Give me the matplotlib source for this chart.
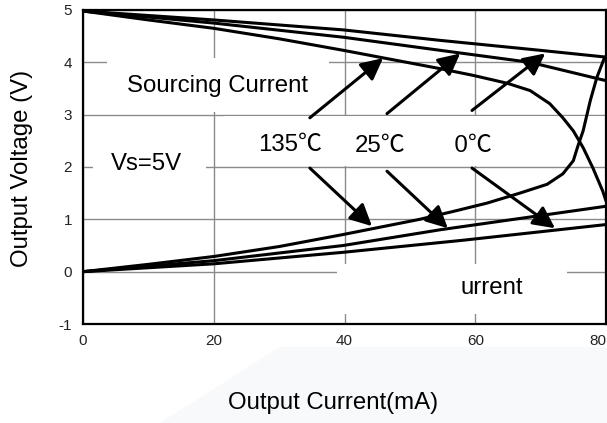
import matplotlib
matplotlib.use("Agg")
import matplotlib.pyplot as plt
from matplotlib.patches import Rectangle, Polygon

plt.rcParams['font.family'] = ['Liberation Sans', 'Noto Sans CJK SC', 'DejaVu Sans']
plt.rcParams['axes.unicode_minus'] = False

# sourcing current curves (upper)
src_hot_x = [0, 10, 20, 30, 39.8, 54.6, 59.7, 64.9, 68.4, 71.4, 73.4, 75.0, 76.5, 78.0, 79.5, 80]
src_hot_v = [4.98, 4.81, 4.65, 4.45, 4.23, 3.88, 3.75, 3.60, 3.46, 3.21, 2.94, 2.69, 2.37, 1.98, 1.54, 1.35]
src_room_x = [0, 20, 39.8, 54.6, 68.4, 80]
src_room_v = [4.98, 4.75, 4.48, 4.23, 4.00, 3.65]
src_cold_x = [0, 20, 39.8, 54.6, 69.9, 80]
src_cold_v = [4.98, 4.81, 4.62, 4.42, 4.23, 4.10]

# sinking current curves (lower)
snk_hot_x = [0, 10, 20, 30, 39.8, 51.5, 56.6, 61.8, 66.8, 71.0, 73.4, 75.0, 75.7, 76.5, 77.6, 78.6, 79.8]
snk_hot_v = [0.0, 0.14, 0.29, 0.48, 0.71, 1.00, 1.15, 1.31, 1.50, 1.67, 1.87, 2.12, 2.40, 2.69, 3.27, 3.71, 4.10]
snk_room_x = [0, 20, 39.8, 54.6, 80]
snk_room_v = [0.0, 0.21, 0.50, 0.80, 1.25]
snk_cold_x = [0, 20, 39.8, 58.1, 80]
snk_cold_v = [0.0, 0.15, 0.37, 0.60, 0.90]

x_ticks = [0, 20, 40, 60, 80]
y_ticks = [-1, 0, 1, 2, 3, 4, 5]

# arrows: (tail, tip) in data units
arrows = [
    ((34.7, 2.94), (45.9, 4.08)),
    ((46.5, 3.02), (57.7, 4.17)),
    ((59.5, 3.08), (70.7, 4.17)),
    ((34.7, 1.98), (44.2, 0.87)),
    ((46.5, 1.92), (55.8, 0.83)),
    ((59.5, 1.98), (72.2, 0.83)),
]

fig = plt.figure(figsize=(6.07, 4.23), dpi=100)
fig.patch.set_facecolor('white')
# faint grey smudge under the plot (scan background)
fig.patches.append(Polygon([(280/607, 76/423), (1, 76/423), (1, 0), (160/607, 0)],
                           closed=True, transform=fig.transFigure,
                           facecolor='#f8f9fa', edgecolor='none', zorder=0))

ax = fig.add_axes([83/607, 1-324/423, 523/607, 314/423])
ax.set_xlim(0, 80)
ax.set_ylim(-1, 5)
ax.set_xticks(x_ticks)
ax.set_yticks(y_ticks)
ax.tick_params(length=0, labelsize=11, labelcolor='#222222')
ax.tick_params(axis='x', pad=7)
ax.tick_params(axis='y', pad=8)
labs = ax.get_xticklabels()
labs[-1].set_horizontalalignment('right')
ax.grid(True, color='#8a8a8a', lw=1.0, zorder=1)
ax.set_axisbelow(True)
for s in ax.spines.values():
    s.set_linewidth(1.6)
    s.set_color('black')

# white label boxes that cut the grid
boxes = [(3.67, 3.06, 33.9, 1.02), (1.53, 1.63, 17.3, 0.87),
         (21.5, 2.02, 58.5, 0.96), (38.9, -0.81, 35.1, 0.96)]
for bx, by, bw, bh in boxes:
    ax.add_patch(Rectangle((bx, by), bw, bh, facecolor='white', edgecolor='none', zorder=2))

lw = 2.2
for xs, vs in [(src_hot_x, src_hot_v), (src_room_x, src_room_v), (src_cold_x, src_cold_v),
               (snk_hot_x, snk_hot_v), (snk_room_x, snk_room_v), (snk_cold_x, snk_cold_v)]:
    ax.plot(xs, vs, color='black', lw=lw, zorder=3, solid_capstyle='round')

for tail, tip in arrows:
    ax.annotate('', xy=tip, xytext=tail, zorder=4,
                arrowprops=dict(arrowstyle='-|>,head_length=0.6,head_width=0.3',
                                mutation_scale=22, lw=2.2, color='black',
                                shrinkA=0, shrinkB=0))

fs = 17.3
ax.text(6.73, 3.44, 'Sourcing Current', fontsize=fs, va='baseline', zorder=5)
ax.text(4.28, 1.94, 'Vs=5V', fontsize=fs, va='baseline', zorder=5)
ax.text(26.8, 2.31, '135℃', fontsize=fs, va='baseline', zorder=5)
ax.text(41.6, 2.29, '25℃', fontsize=fs, va='baseline', zorder=5)
ax.text(53.6, 2.29, '-40℃', fontsize=fs, va='baseline', zorder=5)
# part of the -40 label is lost in the source scan
ax.add_patch(Rectangle((52.0, 2.2), 4.9, 0.55, facecolor='white', edgecolor='none', zorder=6))
ax.text(57.7, -0.42, 'urrent', fontsize=fs, va='baseline', zorder=5)

fig.text(22/607, 1-168/423, 'Output Voltage (V)', rotation=90, fontsize=fs,
         ha='center', va='center')
fig.text(333/607, 1-403/423, 'Output Current(mA)', fontsize=fs, ha='center', va='center')

fig.savefig('out.png', dpi=100)
